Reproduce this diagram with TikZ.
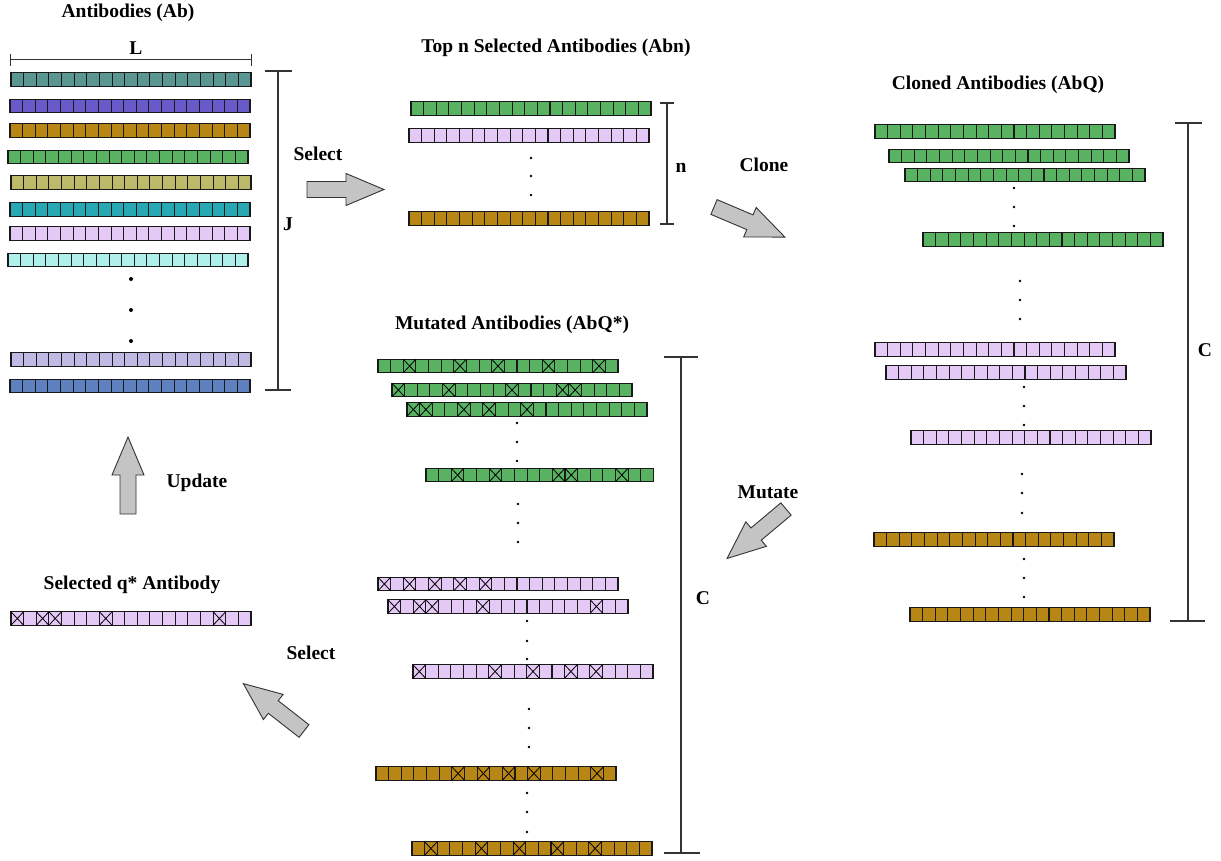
\documentclass[tikz,border=0pt]{standalone}
\usepackage{fontspec}
\setmainfont{Liberation Serif}
\definecolor{cA}{RGB}{91,151,146}
\definecolor{cB}{RGB}{104,90,200}
\definecolor{cC}{RGB}{184,134,20}
\definecolor{cD}{RGB}{88,178,98}
\definecolor{cE}{RGB}{190,186,108}
\definecolor{cF}{RGB}{40,168,178}
\definecolor{cG}{RGB}{228,200,245}
\definecolor{cH}{RGB}{175,240,235}
\definecolor{cI}{RGB}{192,185,228}
\definecolor{cJ}{RGB}{95,128,190}
\definecolor{arrowgray}{RGB}{196,196,196}
\tikzset{
  cell/.style={draw=black!90,line width=1.1pt},
  crossline/.style={draw=black,line width=0.8pt},
  lbl/.style={font=\fontsize{19.5}{22}\selectfont\bfseries,inner sep=1pt},
  bracket/.style={draw=black!80,line width=1.2pt},
  arrowfill/.style={draw=black!80,line width=0.9pt,fill=arrowgray,line join=miter},
  blockarrow/.pic={\path[arrowfill] (0,-8) -- (39,-8) -- (39,-16) -- (77,0) -- (39,16) -- (39,8) -- (0,8) -- cycle;},
}
% #1 = cells, #2 = x, #3 = y centre, #4 = colour
\newcommand\abrow[4]{%
  \begin{scope}[shift={(#2,#3)}]
    \fill[#4] (0,-6.75) rectangle ({#1*240/19},6.75);
    \foreach \i in {1,...,#1}{\draw[cell] ({(\i-1)*240/19},-6.75) rectangle ({\i*240/19},6.75);}
  \end{scope}}
% #1 = cells, #2 = x, #3 = y, #4 = colour, #5 = crossed cells
\newcommand\mutrow[5]{%
  \abrow{#1}{#2}{#3}{#4}%
  \begin{scope}[shift={(#2,#3)}]
    \foreach \i in {#5}{\draw[crossline] ({\i*240/19},-6.75) -- ({(\i+1)*240/19},6.75) ({\i*240/19},6.75) -- ({(\i+1)*240/19},-6.75);}
  \end{scope}}
\newcommand\threedots[4]{% x, y1, y2, y3
  \fill (#1,#2) circle (1.4pt) (#1,#3) circle (1.4pt) (#1,#4) circle (1.4pt);}
\begin{document}
\begin{tikzpicture}[x=1pt,y=-1pt]
\useasboundingbox[fill=white] (0,0) rectangle (1221,861);

% ---------- Antibodies (Ab)
\node[lbl] (tAb) at (128,13) {Antibodies (Ab)};
\node[lbl] (tL) at (136,48) {L};
\draw[bracket,line width=1pt] (10,60) -- (251,60) (10,54) -- (10,66) (251,54) -- (251,66);
\abrow{19}{11}{79.5}{cA}
\abrow{19}{10}{106}{cB}
\abrow{19}{10}{130.5}{cC}
\abrow{19}{8}{157}{cD}
\abrow{19}{11}{182.5}{cE}
\abrow{19}{10}{209.5}{cF}
\abrow{19}{10}{233.5}{cG}
\abrow{19}{8}{260}{cH}
\fill (131,279) circle (2pt) (131,310) circle (2pt) (131,341) circle (2pt);
\abrow{19}{11}{359.5}{cI}
\abrow{19}{10}{386}{cJ}
\draw[bracket] (265,71) -- (292,71) (278,71) -- (278,390) (265,390) -- (291,390);
\node[lbl] (tJ) at (288,224) {J};

% ---------- Select arrow
\node[lbl] (tSel1) at (318,154) {Select};
\pic (arrSel1) at (307,189.5) {blockarrow};

% ---------- Top n
\node[lbl] (tAbn) at (556,48) {Top n Selected Antibodies (Abn)};
\abrow{19}{411}{108.5}{cD}
\abrow{19}{409}{135.5}{cG}
\threedots{531}{158}{176}{195}
\abrow{19}{409}{218.5}{cC}
\draw[bracket] (660,103) -- (674,103) (667,103) -- (667,224) (660,224) -- (674,224);
\node[lbl] (tn) at (681,168) {n};

% ---------- Clone arrow
\node[lbl] (tClone) at (764,165) {Clone};
\pic[rotate=-23] (arrClone) at (714,207) {blockarrow};

% ---------- Cloned Antibodies
\node[lbl] (tAbQ) at (998,85) {Cloned Antibodies (AbQ)};
\abrow{19}{875}{131.5}{cD}
\abrow{19}{889}{156}{cD}
\abrow{19}{905}{175}{cD}
\threedots{1014}{188}{207}{226}
\abrow{19}{923}{239.5}{cD}
\threedots{1020}{281}{300}{319}
\abrow{19}{875}{349.5}{cG}
\abrow{19}{886}{372.5}{cG}
\threedots{1024}{387}{406}{425}
\abrow{19}{911}{437.5}{cG}
\threedots{1022}{474}{493}{513}
\abrow{19}{874}{539.5}{cC}
\threedots{1024}{559}{578}{597}
\abrow{19}{910}{614.5}{cC}
\draw[bracket] (1175,123) -- (1202,123) (1188,123) -- (1188,621) (1170,621) -- (1205,621);
\node[lbl] (tC1) at (1205,350) {C};

% ---------- Mutate arrow
\node[lbl] (tMut) at (768,492) {Mutate};
\pic[rotate=220] (arrMut) at (786,509) {blockarrow};

% ---------- Mutated Antibodies
\node[lbl] (tAbQs) at (512,325) {Mutated Antibodies (AbQ*)};
\mutrow{19}{378}{366}{cD}{2,6,9,13,17}
\mutrow{19}{392}{390}{cD}{0,4,9,13,14}
\mutrow{19}{407}{409.5}{cD}{0,1,4,6,9}
\threedots{517}{423}{442}{461}
\mutrow{18}{426}{475}{cD}{2,5,10,11,15}
\threedots{518}{504}{523}{542}
\mutrow{19}{378}{584}{cG}{0,2,4,6,8}
\mutrow{19}{388}{606.5}{cG}{0,2,3,7,16}
\threedots{527}{621}{641}{659}
\mutrow{19}{413}{671.5}{cG}{0,6,9,12,14}
\threedots{529}{709}{728}{747}
\mutrow{19}{376}{773.5}{cC}{6,8,10,12,17}
\threedots{527}{793}{812}{832}
\mutrow{19}{412}{848.5}{cC}{1,5,8,11,14}
\draw[bracket] (664,357) -- (698,357) (681,357) -- (681,853) (664,853) -- (700,853);
\node[lbl] (tC2) at (703,598) {C};

% ---------- Select arrow (to q*)
\node[lbl] (tSel2) at (311,653) {Select};
\pic[rotate=142] (arrSel2) at (304,731) {blockarrow};

% ---------- Selected q*
\node[lbl] (tq) at (132,585) {Selected q* Antibody};
\mutrow{19}{11}{618.5}{cG}{0,2,3,7,16}

% ---------- Update arrow
\node[lbl] (tUpd) at (197,483) {Update};
\pic[rotate=90] (arrUpd) at (128,514) {blockarrow};
\end{tikzpicture}
\end{document}
